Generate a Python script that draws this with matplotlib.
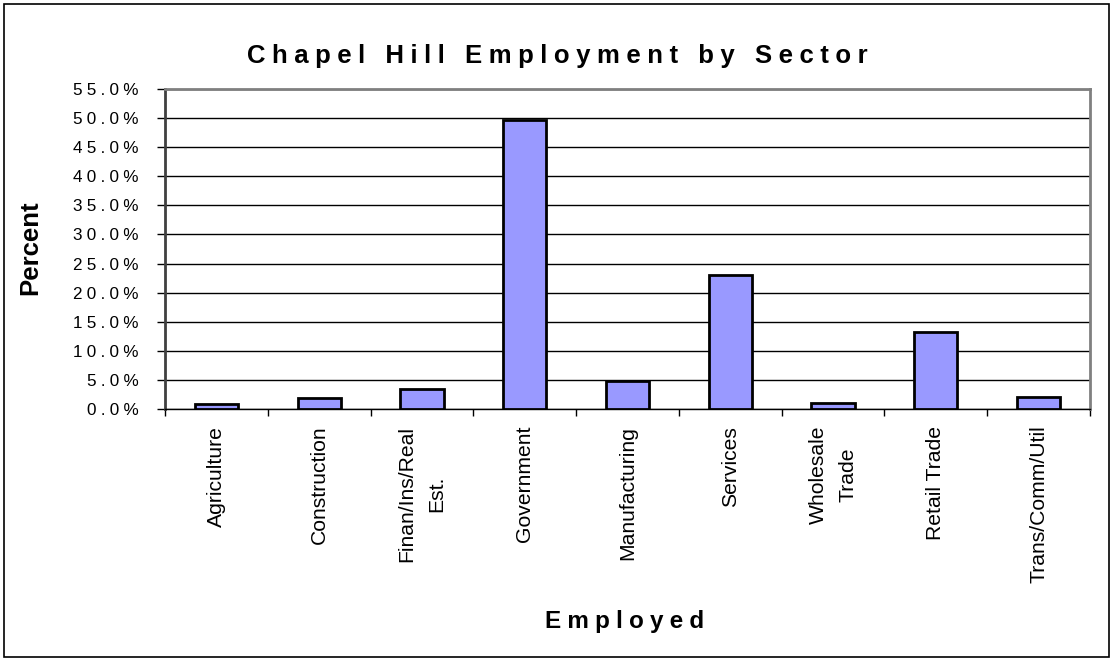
import matplotlib.pyplot as plt
from matplotlib.patches import Rectangle
from matplotlib.ticker import FuncFormatter, FixedLocator
import numpy as np

plt.rcParams['font.family'] = ['Liberation Sans', 'DejaVu Sans']

sectors = ['Agriculture', 'Construction', 'Finan/Ins/Real\nEst.', 'Government',
           'Manufacturing', 'Services', 'Wholesale\nTrade', 'Retail Trade',
           'Trans/Comm/Util']
percent = [0.8, 1.9, 3.4, 49.7, 4.8, 23.0, 1.0, 13.2, 2.0]
yticks = np.arange(0, 55.1, 5)

W, H = 1113, 662


def spaced(s, sep='\u2005'):
    # Excel style letter spacing
    return sep.join(s)


fig = plt.figure(figsize=(W / 100, H / 100), dpi=100)
ax = fig.add_axes([165 / W, 1 - 409 / H, 925 / W, 320 / H])

x = np.arange(len(sectors))
ax.bar(x, percent, width=0.42, color='#9999FF', edgecolor='black', linewidth=2, zorder=3)

ax.set_xlim(-0.5, len(sectors) - 0.5)
ax.set_ylim(0, 55)
ax.set_yticks(yticks)
ax.yaxis.set_major_formatter(FuncFormatter(lambda v, p: spaced('%.1f%%' % v)))
ax.grid(axis='y', color='black', linewidth=1, zorder=0)
ax.tick_params(axis='y', direction='out', length=6, width=1, labelsize=12.3, pad=13)

ax.set_xticks(x)
ax.set_xticklabels(sectors, rotation=90, fontsize=15.2, va='top', ha='center',
                   multialignment='center', linespacing=1.7)
ax.xaxis.set_minor_locator(FixedLocator(np.arange(-0.5, len(sectors), 1)))
ax.tick_params(axis='x', which='major', length=0, pad=12)
ax.tick_params(axis='x', which='minor', direction='out', length=5, width=1)

for side in ('top', 'right'):
    ax.spines[side].set_color('#808080')
    ax.spines[side].set_linewidth(2)
ax.spines['left'].set_color('#404040')
ax.spines['left'].set_linewidth(2)
ax.spines['bottom'].set_color('black')
ax.spines['bottom'].set_linewidth(1)

fig.text(557 / W, 1 - 63 / H, spaced('Chapel Hill Employment by Sector'),
         ha='center', va='baseline', fontsize=18.5, fontweight='bold')
fig.text(30 / W, 1 - 248 / H, 'Percent', rotation=90, ha='center', va='center',
         fontsize=18.5, fontweight='bold')
fig.text(625 / W, 1 - 628 / H, spaced('Employed'), ha='center', va='baseline',
         fontsize=17.5, fontweight='bold')

fig.patches.append(Rectangle((4 / W, 5 / H), 1105 / W, 653 / H,
                             transform=fig.transFigure, fill=False,
                             edgecolor='black', linewidth=1.2))

fig.savefig('out.png', dpi=100)
